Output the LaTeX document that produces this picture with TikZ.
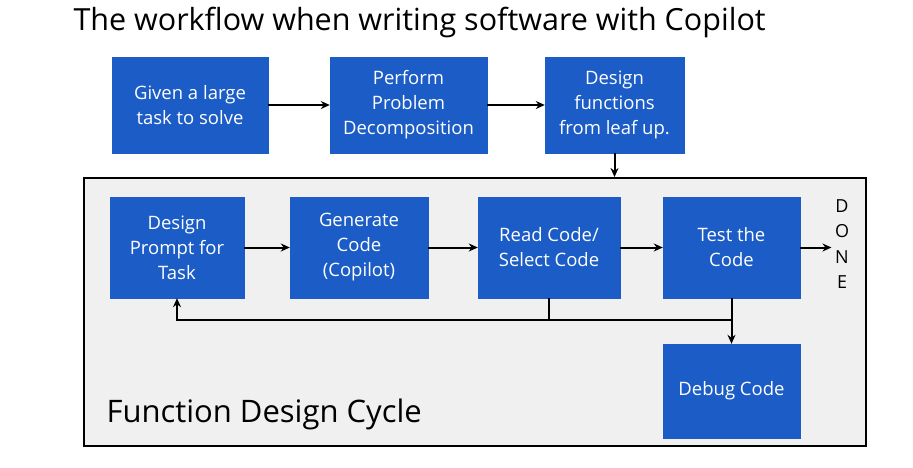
\documentclass[tikz,border=0pt]{standalone}
\usepackage{fontspec}
\setmainfont{Open Sans}
\usetikzlibrary{arrows.meta}
\definecolor{bx}{HTML}{1B5CC6}
\begin{document}
\begin{tikzpicture}[x=1pt,y=-1pt,
 box/.style={fill=bx,draw=bx,text=white,font=\fontsize{18.5}{25}\selectfont,align=center,inner sep=0},
 arr/.style={-{Stealth[length=9pt,width=8pt]},line width=2pt}]
\useasboundingbox (0,0) rectangle (913,467);
\fill[white] (0,0) rectangle (913,467);
\node[anchor=west,font=\fontsize{30.5}{34}\selectfont] (title) at (70,22) {The workflow when writing software with Copilot};
\node[box,minimum width=156,minimum height=96] (t1) at (190,105) {Given a large\\task to solve};
\node[box,minimum width=157,minimum height=96] (t2) at (408.5,105) {Perform\\Problem\\Decomposition};
\node[box,minimum width=139,minimum height=96] (t3) at (614.5,105) {Design\\functions\\from leaf up.};
\draw[arr] (t1) -- (t2);
\draw[arr] (t2) -- (t3);
\node[draw,line width=2pt,fill=gray!12,minimum width=782,minimum height=268,inner sep=0] (frame) at (475,312) {};
\draw[arr] (t3.south) -- (t3.south|-frame.north);
\node[box,minimum width=134,minimum height=101] (a) at (177,247.5) {Design\\Prompt for\\Task};
\node[box,minimum width=138,minimum height=101] (b) at (359,247.5) {Generate\\Code\\(Copilot)};
\node[box,minimum width=142,minimum height=101] (c) at (549,247.5) {Read Code/\\Select Code};
\node[box,minimum width=137,minimum height=101] (d) at (731.5,247.5) {Test the\\Code};
\node[box,minimum width=137,minimum height=94] (e) at (731.5,391) {Debug Code};
\node[align=center,font=\fontsize{18}{25.5}\selectfont] (done) at (842,244) {D\\O\\N\\E};
\draw[arr] (a) -- (b);
\draw[arr] (b) -- (c);
\draw[arr] (c) -- (d);
\draw[arr] (d.east) -- (done.west|-d.east);
\coordinate (j) at (731.5,320);
\draw[line width=2pt] (c.south) -- (c.south|-j);
\draw[arr] (d.south) -- (e.north);
\draw[arr] (j) -- (a.south|-j) -- (a.south);
\node[anchor=west,font=\fontsize{31}{34}\selectfont] (lbl) at (103,414) {Function Design Cycle};
\end{tikzpicture}
\end{document}
